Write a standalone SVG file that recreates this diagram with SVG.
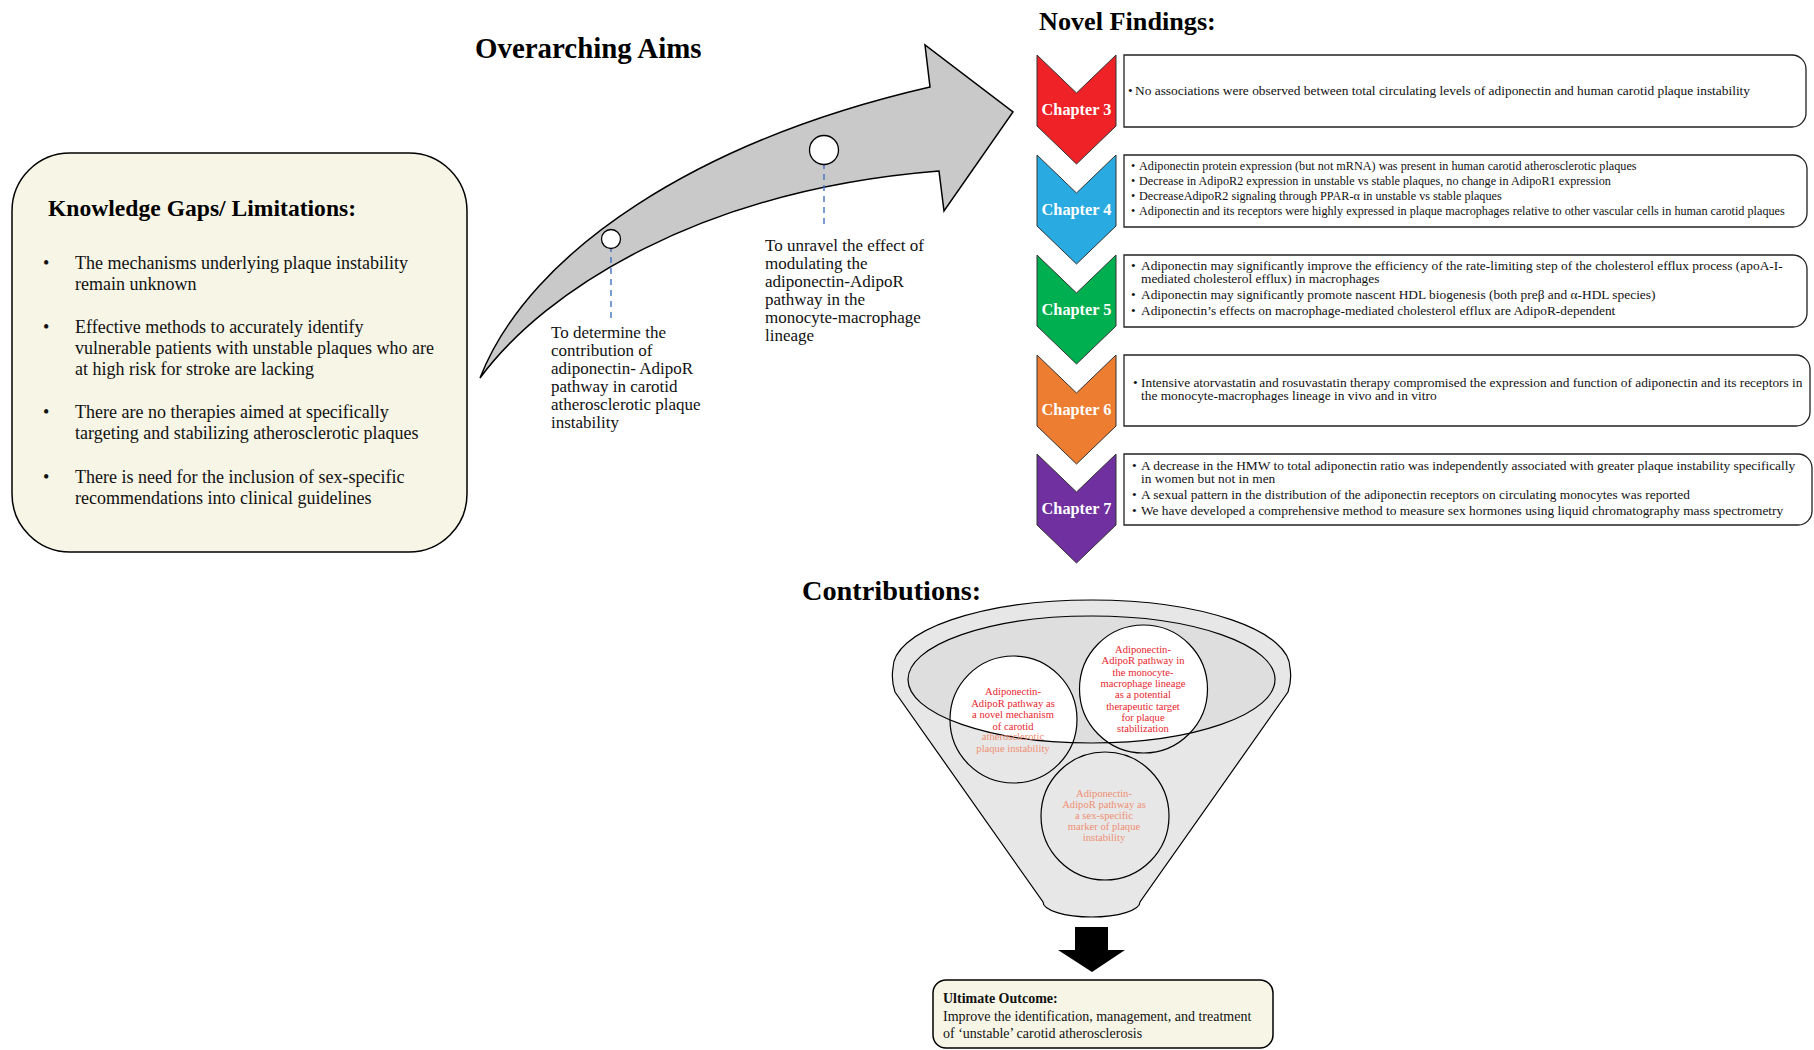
<svg xmlns="http://www.w3.org/2000/svg" width="1814" height="1050" viewBox="0 0 1814 1050">
  <style>
    text { font-family: "Liberation Serif", "Times New Roman", serif; fill: #111; }
    .title { font-weight: bold; fill: #000; }
    .gap { font-size: 18px; }
    .aim { font-size: 17px; }
    .find { font-size: 13.4px; }
    .find-sm { font-size: 12.2px; }
    .chap { font-size: 16.3px; font-weight: bold; fill: #fff; text-anchor: middle; }
    .circ { font-size: 10.6px; text-anchor: middle; }
    .red { fill: #e8262d; }
    .salmon { fill: #ee8f74; }
    .card { fill: #f7f5e6; stroke: #000; stroke-width: 1.5; }
    .fbox { fill: #fff; stroke: #222; stroke-width: 1.3; }
    .chev { stroke: #333; stroke-width: 1; }
    .ring { fill: none; stroke: #000; stroke-width: 1.2; }
    .lead { stroke: #4472c4; stroke-width: 1.4; stroke-dasharray: 6 5; fill: none; }
  </style>
  <defs>
    <clipPath id="topEllipse">
      <ellipse cx="1091.5" cy="679.5" rx="183.5" ry="63.5"/>
    </clipPath>
  </defs>

  <rect width="1814" height="1050" fill="#fff"/>

  <!-- Knowledge gaps card -->
  <g id="knowledge-gaps">
    <rect class="card" x="12" y="153" width="455" height="399" rx="58" ry="58"/>
    <text class="title" x="48" y="216" font-size="23.6">Knowledge Gaps/ Limitations:</text>
    <g class="gap">
      <text x="43" y="269">•</text>
      <text x="75" y="269">The mechanisms underlying plaque instability</text>
      <text x="75" y="290">remain unknown</text>
      <text x="43" y="333">•</text>
      <text x="75" y="333">Effective methods to accurately identify</text>
      <text x="75" y="354">vulnerable patients with unstable plaques who are</text>
      <text x="75" y="375">at high risk for stroke are lacking</text>
      <text x="43" y="418">•</text>
      <text x="75" y="418">There are no therapies aimed at specifically</text>
      <text x="75" y="439">targeting and stabilizing atherosclerotic plaques</text>
      <text x="43" y="483">•</text>
      <text x="75" y="483">There is need for the inclusion of sex-specific</text>
      <text x="75" y="504">recommendations into clinical guidelines</text>
    </g>
  </g>

  <!-- Overarching aims: curved arrow with two milestones -->
  <g id="aims">
    <text class="title" x="475" y="58" font-size="28.9">Overarching Aims</text>
    <path d="M480,378 C530,250 700,140 930,87 L925,45 L1013,112 L944,211 L939,171 C700,190 545,290 480,378 Z"
          fill="#c9c9c9" stroke="#000" stroke-width="1.5"/>
  </g>

  <g id="connectors">
    <line class="lead" x1="611" y1="246" x2="611" y2="318"/>
    <line class="lead" x1="824" y1="152" x2="824" y2="228"/>
  </g>

  <g id="aim-1">
    <circle cx="611" cy="239" r="9.5" fill="#fff" stroke="#000" stroke-width="1.3"/>
    <g class="aim">
      <text x="551" y="338">To determine the</text>
      <text x="551" y="356">contribution of</text>
      <text x="551" y="374">adiponectin- AdipoR</text>
      <text x="551" y="392">pathway in carotid</text>
      <text x="551" y="410">atherosclerotic plaque</text>
      <text x="551" y="428">instability</text>
    </g>
  </g>

  <g id="aim-2">
    <circle cx="824" cy="150" r="14.5" fill="#fff" stroke="#000" stroke-width="1.3"/>
    <g class="aim">
      <text x="765" y="251">To unravel the effect of</text>
      <text x="765" y="269">modulating the</text>
      <text x="765" y="287">adiponectin-AdipoR</text>
      <text x="765" y="305">pathway in the</text>
      <text x="765" y="323">monocyte-macrophage</text>
      <text x="765" y="341">lineage</text>
    </g>
  </g>

  <!-- Novel findings -->
  <text class="title" x="1039" y="30" font-size="26.2">Novel Findings:</text>

  <g id="chapter-3">
    <path class="chev" fill="#ee2227" d="M1037,55 L1076.5,93 L1116,55 V126 L1076.5,164 L1037,126 Z"/>
    <text class="chap" x="1076.5" y="115">Chapter 3</text>
    <path class="fbox" d="M1124,55 H1792 A14,14 0 0 1 1806,69 V113 A14,14 0 0 1 1792,127 H1124 Z"/>
    <g class="find">
      <text x="1128" y="95">•</text>
      <text x="1135" y="95">No associations were observed between total circulating levels of adiponectin and human carotid plaque instability</text>
    </g>
  </g>

  <g id="chapter-4">
    <path class="chev" fill="#29abe2" d="M1037,155 L1076.5,193 L1116,155 V226 L1076.5,264 L1037,226 Z"/>
    <text class="chap" x="1076.5" y="215">Chapter 4</text>
    <path class="fbox" d="M1124,155 H1793 A14,14 0 0 1 1807,169 V213 A14,14 0 0 1 1793,227 H1124 Z"/>
    <g class="find-sm">
      <text x="1131" y="170">•</text>
      <text x="1139" y="170">Adiponectin protein expression (but not mRNA) was present in human carotid atherosclerotic plaques</text>
      <text x="1131" y="185">•</text>
      <text x="1139" y="185">Decrease in AdipoR2 expression in unstable vs stable plaques, no change in AdipoR1 expression</text>
      <text x="1131" y="200">•</text>
      <text x="1139" y="200">DecreaseAdipoR2 signaling through PPAR-α in unstable vs stable plaques</text>
      <text x="1131" y="215">•</text>
      <text x="1139" y="215">Adiponectin and its receptors were highly expressed in plaque macrophages relative to other vascular cells in human carotid plaques</text>
    </g>
  </g>

  <g id="chapter-5">
    <path class="chev" fill="#00b050" d="M1037,255 L1076.5,293 L1116,255 V326 L1076.5,364 L1037,326 Z"/>
    <text class="chap" x="1076.5" y="315">Chapter 5</text>
    <path class="fbox" d="M1124,255 H1793 A14,14 0 0 1 1807,269 V313 A14,14 0 0 1 1793,327 H1124 Z"/>
    <g class="find">
      <text x="1131" y="270">•</text>
      <text x="1141" y="270">Adiponectin may significantly improve the efficiency of the rate-limiting step of the cholesterol efflux process (apoA-I-</text>
      <text x="1141" y="283">mediated cholesterol efflux) in macrophages</text>
      <text x="1131" y="299">•</text>
      <text x="1141" y="299">Adiponectin may significantly promote nascent HDL biogenesis (both preβ and α-HDL species)</text>
      <text x="1131" y="315">•</text>
      <text x="1141" y="315">Adiponectin’s effects on macrophage-mediated cholesterol efflux are AdipoR-dependent</text>
    </g>
  </g>

  <g id="chapter-6">
    <path class="chev" fill="#ed7d31" d="M1037,355 L1076.5,393 L1116,355 V426 L1076.5,464 L1037,426 Z"/>
    <text class="chap" x="1076.5" y="415">Chapter 6</text>
    <path class="fbox" d="M1124,355 H1796 A14,14 0 0 1 1810,369 V412 A14,14 0 0 1 1796,426 H1124 Z"/>
    <g class="find">
      <text x="1133" y="387">•</text>
      <text x="1141" y="387">Intensive atorvastatin and rosuvastatin therapy compromised the expression and function of adiponectin and its receptors in</text>
      <text x="1141" y="400">the monocyte-macrophages lineage in vivo and in vitro</text>
    </g>
  </g>

  <g id="chapter-7">
    <path class="chev" fill="#7030a0" d="M1037,454 L1076.5,492 L1116,454 V525 L1076.5,563 L1037,525 Z"/>
    <text class="chap" x="1076.5" y="514">Chapter 7</text>
    <path class="fbox" d="M1124,454 H1798 A14,14 0 0 1 1812,468 V511 A14,14 0 0 1 1798,525 H1124 Z"/>
    <g class="find">
      <text x="1132" y="470">•</text>
      <text x="1141" y="470">A decrease in the HMW to total adiponectin ratio was independently associated with greater plaque instability specifically</text>
      <text x="1141" y="483">in women but not in men</text>
      <text x="1132" y="499">•</text>
      <text x="1141" y="499">A sexual pattern in the distribution of the adiponectin receptors on circulating monocytes was reported</text>
      <text x="1132" y="515">•</text>
      <text x="1141" y="515">We have developed a comprehensive method to measure sex hormones using liquid chromatography mass spectrometry</text>
    </g>
  </g>

  <!-- Contributions funnel -->
  <text class="title" x="802" y="600" font-size="28.3">Contributions:</text>

  <g id="funnel">
    <path d="M895,692 Q891,680 893,668 A198.5,68 0 0 1 1290,668 Q1292,680 1288,692 L1140,902 A48.5,15 0 0 1 1043,902 Z"
          fill="#e8e7e7" stroke="#000" stroke-width="1.2"/>
    <ellipse cx="1091.5" cy="679.5" rx="183.5" ry="63.5" fill="#dfdede"/>
    <g clip-path="url(#topEllipse)" fill="#fff">
      <circle cx="1013.5" cy="719.5" r="63.5"/>
      <circle cx="1143.5" cy="689" r="64"/>
    </g>
    <ellipse class="ring" cx="1091.5" cy="679.5" rx="183.5" ry="63.5"/>
  </g>

  <g id="contribution-mechanism">
    <circle class="ring" cx="1013.5" cy="719.5" r="63.5"/>
    <g class="circ">
      <text class="red" x="1013" y="695">Adiponectin-</text>
      <text class="red" x="1013" y="706.5">AdipoR pathway as</text>
      <text class="red" x="1013" y="718">a novel mechanism</text>
      <text class="red" x="1013" y="729.5">of carotid</text>
      <text class="salmon" x="1013" y="740">atherosclerotic</text>
      <text class="salmon" x="1013" y="751.5">plaque instability</text>
    </g>
  </g>

  <g id="contribution-target">
    <circle class="ring" cx="1143.5" cy="689" r="64"/>
    <g class="circ">
      <text class="red" x="1143" y="653">Adiponectin-</text>
      <text class="red" x="1143" y="664">AdipoR pathway in</text>
      <text class="red" x="1143" y="675.5">the monocyte-</text>
      <text class="red" x="1143" y="687">macrophage lineage</text>
      <text class="red" x="1143" y="698">as a potential</text>
      <text class="red" x="1143" y="709.5">therapeutic target</text>
      <text class="red" x="1143" y="720.5">for plaque</text>
      <text class="red" x="1143" y="732">stabilization</text>
    </g>
  </g>

  <g id="contribution-marker">
    <circle class="ring" cx="1105" cy="816" r="64"/>
    <g class="circ">
      <text class="salmon" x="1104" y="797">Adiponectin-</text>
      <text class="salmon" x="1104" y="808">AdipoR pathway as</text>
      <text class="salmon" x="1104" y="819">a sex-specific</text>
      <text class="salmon" x="1104" y="830">marker of plaque</text>
      <text class="salmon" x="1104" y="841">instability</text>
    </g>
  </g>

  <!-- Down arrow to outcome -->
  <g id="down-arrow">
    <path d="M1075,927 H1108 V950 H1125 L1092,972 L1058,950 H1075 Z" fill="#000"/>
  </g>

  <g id="ultimate-outcome">
    <rect class="card" x="933" y="980" width="340" height="68" rx="13" ry="13" stroke-width="1.2"/>
    <text x="943" y="1003" font-size="14" font-weight="bold" fill="#000">Ultimate Outcome:</text>
    <text x="943" y="1021" font-size="14">Improve the identification, management, and treatment</text>
    <text x="943" y="1038" font-size="14">of ‘unstable’ carotid atherosclerosis</text>
  </g>
</svg>
